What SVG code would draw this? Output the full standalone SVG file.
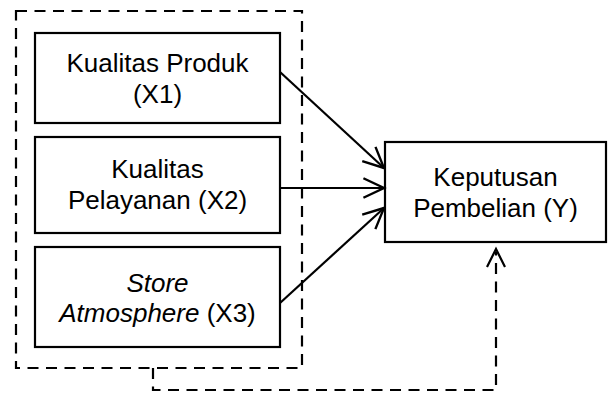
<svg xmlns="http://www.w3.org/2000/svg" width="608" height="394" viewBox="0 0 608 394">
<style>
.box{fill:#fff;stroke:#000;stroke-width:2.2}
.dash{fill:none;stroke:#000;stroke-width:2.2;stroke-dasharray:11 7.5}
.con{fill:none;stroke:#000;stroke-width:2.2}
text{font-family:"Liberation Sans",Arial,sans-serif;font-size:26px;fill:#000;text-anchor:middle}
.it{font-style:italic}
</style>
<defs>
<marker id="arr" markerUnits="userSpaceOnUse" markerWidth="26" markerHeight="26" refX="21" refY="12" orient="auto" viewBox="0 0 24 24">
<path d="M2,3 L21,12 L2,21" fill="none" stroke="#000" stroke-width="2.2"/>
</marker>
</defs>
<rect width="608" height="394" fill="#fff"/>
<g id="group-x">
<rect class="dash" x="16" y="11" width="286" height="357"/>
</g>
<g id="x1">
<rect class="box" x="35" y="33" width="245" height="90"/>
<text x="157.5" y="72">Kualitas Produk</text>
<text x="157.5" y="103">(X1)</text>
</g>
<g id="x2">
<rect class="box" x="35" y="137" width="245" height="96"/>
<text x="157.5" y="178">Kualitas</text>
<text x="157.5" y="209">Pelayanan (X2)</text>
</g>
<g id="x3">
<rect class="box" x="35" y="247" width="245" height="100"/>
<text x="157.5" y="292" class="it">Store</text>
<text x="157.5" y="322"><tspan class="it">Atmosphere</tspan> (X3)</text>
</g>
<g id="y">
<rect class="box" x="385" y="142" width="221" height="100"/>
<text x="495.5" y="186">Keputusan</text>
<text x="495.5" y="217">Pembelian (Y)</text>
</g>
<g id="connectors">
<line class="con" x1="280" y1="72" x2="384" y2="168" marker-end="url(#arr)"/>
<line class="con" x1="280" y1="188" x2="384" y2="188" marker-end="url(#arr)"/>
<line class="con" x1="280" y1="303" x2="384" y2="208" marker-end="url(#arr)"/>
<path class="dash" d="M153,368 V390 H496 V252"/>
<path class="con" d="M487,267 L496,249 L505,267"/>
</g>
</svg>
